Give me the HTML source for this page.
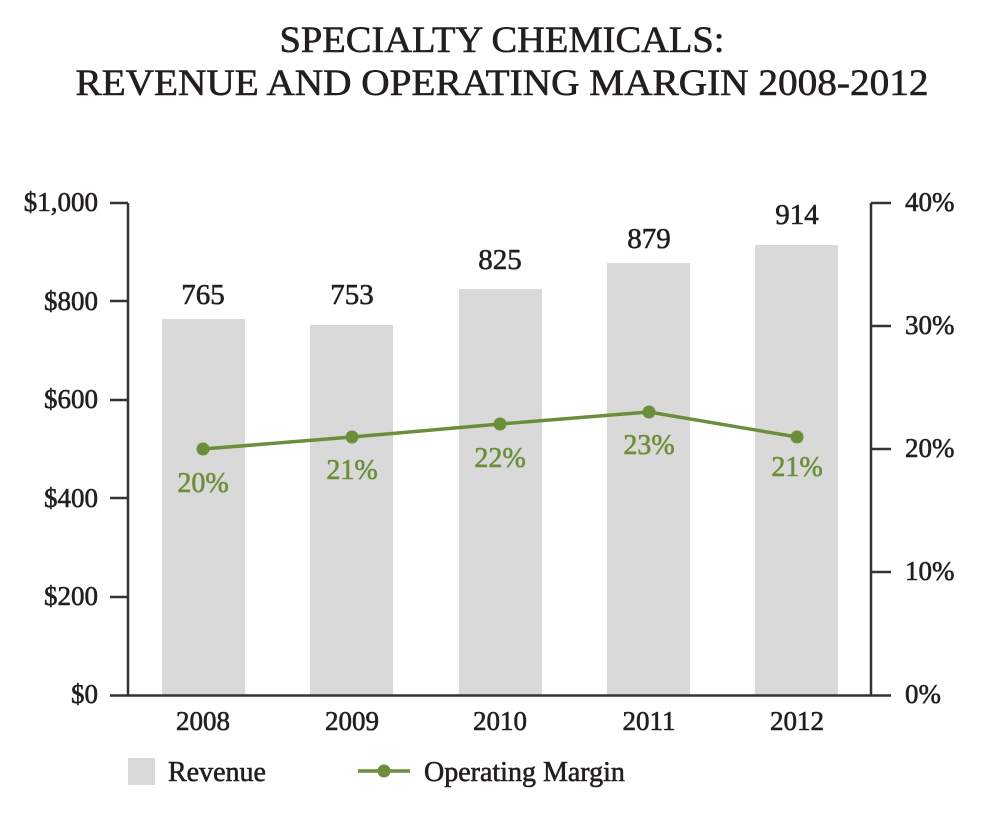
<!DOCTYPE html>
<html><head><style>
body{margin:0;background:#fff;}
svg text{font-family:"Liberation Serif",serif;stroke-width:0.6;}
</style></head><body>
<svg width="1004" height="818" xmlns="http://www.w3.org/2000/svg">
<rect width="1004" height="818" fill="#fff"/>
<g fill="#231f20" stroke="#231f20" font-size="37" text-anchor="middle">
<text x="502" y="52" textLength="445" lengthAdjust="spacingAndGlyphs">SPECIALTY CHEMICALS:</text>
<text x="502" y="95" textLength="853" lengthAdjust="spacingAndGlyphs">REVENUE AND OPERATING MARGIN 2008-2012</text>
</g>
<g fill="#d9d9d9">
<rect x="162" y="319" width="83" height="376"/>
<rect x="310" y="325" width="83" height="370"/>
<rect x="459" y="289" width="83" height="406"/>
<rect x="607" y="263" width="83" height="432"/>
<rect x="755" y="245" width="83" height="450"/>
</g>
<g stroke="#333" stroke-width="2.5" fill="none">
<line x1="128" y1="203" x2="128" y2="696"/>
<line x1="871" y1="203" x2="871" y2="696"/>
<line x1="110" y1="695.5" x2="891" y2="695.5"/>
<line x1="110" y1="203" x2="128" y2="203"/>
<line x1="110" y1="301" x2="128" y2="301"/>
<line x1="110" y1="400" x2="128" y2="400"/>
<line x1="110" y1="498" x2="128" y2="498"/>
<line x1="110" y1="597" x2="128" y2="597"/>
<line x1="871" y1="203" x2="891" y2="203"/>
<line x1="871" y1="326" x2="891" y2="326"/>
<line x1="871" y1="449" x2="891" y2="449"/>
<line x1="871" y1="572" x2="891" y2="572"/>
</g>
<g fill="#231f20" stroke="#231f20" font-size="27" text-anchor="end">
<text x="98" y="211">$1,000</text>
<text x="98" y="310">$800</text>
<text x="98" y="408">$600</text>
<text x="98" y="507">$400</text>
<text x="98" y="605">$200</text>
<text x="98" y="703">$0</text>
</g>
<g fill="#231f20" stroke="#231f20" font-size="27">
<text x="905" y="211">40%</text>
<text x="905" y="334">30%</text>
<text x="905" y="457">20%</text>
<text x="905" y="580">10%</text>
<text x="905" y="703">0%</text>
</g>
<g fill="#231f20" stroke="#231f20" font-size="27" text-anchor="middle">
<text x="203" y="730">2008</text>
<text x="352" y="730">2009</text>
<text x="500" y="730">2010</text>
<text x="649" y="730">2011</text>
<text x="797" y="730">2012</text>
</g>
<g fill="#231f20" stroke="#231f20" font-size="29" text-anchor="middle">
<text x="203" y="304">765</text>
<text x="352" y="304">753</text>
<text x="500" y="269">825</text>
<text x="649" y="248">879</text>
<text x="797" y="224">914</text>
</g>
<polyline points="203,449 352,437 500,424 649,412 797,437" fill="none" stroke="#6b8e3a" stroke-width="3.5"/>
<g fill="#6b8e3a">
<circle cx="203" cy="449" r="6.5"/><circle cx="352" cy="437" r="6.5"/><circle cx="500" cy="424" r="6.5"/><circle cx="649" cy="412" r="6.5"/><circle cx="797" cy="437" r="6.5"/>
</g>
<g fill="#6b8e3a" stroke="#6b8e3a" font-size="28" text-anchor="middle">
<text x="203" y="492">20%</text>
<text x="352" y="479">21%</text>
<text x="500" y="467">22%</text>
<text x="649" y="454">23%</text>
<text x="797" y="476">21%</text>
</g>
<rect x="128" y="758" width="27" height="27" fill="#d9d9d9"/>
<text x="168" y="781" font-size="28" fill="#231f20" stroke="#231f20">Revenue</text>
<line x1="358" y1="771" x2="410" y2="771" stroke="#6b8e3a" stroke-width="3.5"/>
<circle cx="384" cy="771" r="6.5" fill="#6b8e3a"/>
<text x="424" y="781" font-size="28" fill="#231f20" stroke="#231f20">Operating Margin</text>
</svg>
</body></html>
